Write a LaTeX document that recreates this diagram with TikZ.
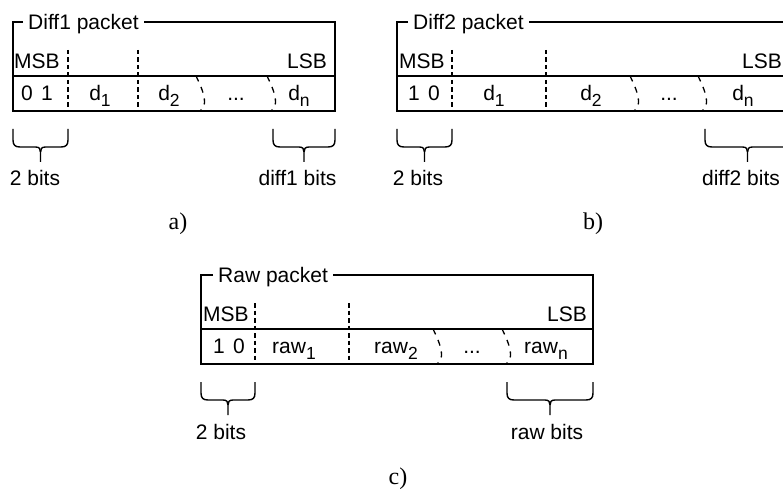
\documentclass[tikz,border=0pt]{standalone}
\usepackage{fontspec}
\setmainfont{Liberation Sans}
\newfontfamily\serifl{Liberation Serif}
\tikzset{
  frame/.style={line width=1.4bp, line join=miter},
  dsh/.style={line width=1.3bp, dash pattern=on 4.5bp off 3bp},
  brkline/.style={line width=1.3bp, dash pattern=on 6bp off 6bp},
  txt/.style={inner sep=0pt, font=\fontsize{21bp}{25bp}\selectfont},
  ttl/.style={txt, inner xsep=5bp, anchor=base west},
  lbl/.style={inner sep=0pt, font=\serifl\fontsize{24bp}{28bp}\selectfont},
}
\newcommand\subs[1]{\raisebox{-6bp}{\fontsize{17.5bp}{17.5bp}\selectfont #1}}
\newcommand\brkmark[2]{%
  \begin{scope}[shift={(#1,#2)}]
    \draw[brkline] (0,0) .. controls (10,20) and (11,30) .. (4,35);
  \end{scope}}
\newcommand\bitbrace[3]{%
  \pgfmathsetmacro\bm{(#1+#2)/2}%
  \begin{scope}[shift={(0,#3)}]
    \draw[frame] (#1,0) -- (#1,11) .. controls (#1,16) and ({#1+2},18) .. ({#1+7},18)
      -- ({\bm-5},18) .. controls ({\bm-1},18) and (\bm,20) .. (\bm,23) -- (\bm,33);
    \draw[frame] (#2,0) -- (#2,11) .. controls (#2,16) and ({#2-2},18) .. ({#2-7},18)
      -- ({\bm+5},18) .. controls ({\bm+1},18) and (\bm,20) .. (\bm,23);
  \end{scope}}
\begin{document}
\begin{tikzpicture}[x=1bp,y=-1bp]
\useasboundingbox (0,0) rectangle (783,491);

% ---------------- Panel a ----------------
\coordinate (atl) at (13,22);
\node[ttl] (ta) at (23,29.5) {Diff1 packet};
\draw[frame] (atl -| ta.west) -- (atl) -- (13,111) -- (335,111) -- (335,22) -- (ta.east |- atl);
\draw[frame] (13,76) -- (335,76);
\draw[dsh] (68,50) -- (68,111);
\draw[dsh] (138,50) -- (138,111);
\brkmark{196}{76}
\brkmark{267}{76}
\node[txt, anchor=base west] (amsb) at (14,68.5) {MSB};
\node[txt, anchor=base east] (alsb) at (327,68.5) {LSB};
\node[txt, anchor=base] (a01) at (37,100.5) {0\hspace{0.4em}1};
\node[txt, anchor=base] (ad1) at (100,100.5) {d\subs{1}};
\node[txt, anchor=base] (ad2) at (169,100.5) {d\subs{2}};
\node[txt, anchor=base] (adots) at (236,100.5) {...};
\node[txt, anchor=base] (adn) at (299,100.5) {d\subs{n}};
\bitbrace{13}{68}{129}
\bitbrace{273}{335}{129}
\node[txt, anchor=base] (a2b) at (35,186) {2 bits};
\node[txt, anchor=base] (adb) at (297.5,186) {diff1 bits};
\node[lbl] (la) at (178,224) {a)};

% ---------------- Panel b ----------------
\coordinate (btl) at (397,22);
\node[ttl] (tb) at (408,29.5) {Diff2 packet};
\draw[frame] (btl -| tb.west) -- (btl) -- (397,111) -- (790,111) -- (790,22) -- (tb.east |- btl);
\draw[frame] (397,76) -- (790,76);
\draw[dsh] (452,50) -- (452,111);
\draw[dsh] (546,50) -- (546,111);
\brkmark{630}{76}
\brkmark{698}{76}
\node[txt, anchor=base west] (bmsb) at (399,68.5) {MSB};
\node[txt, anchor=base east] (blsb) at (782,68.5) {LSB};
\node[txt, anchor=base] (b10) at (424,100.5) {1\hspace{0.4em}0};
\node[txt, anchor=base] (bd1) at (494,100.5) {d\subs{1}};
\node[txt, anchor=base] (bd2) at (591,100.5) {d\subs{2}};
\node[txt, anchor=base] (bdots) at (669,100.5) {...};
\node[txt, anchor=base] (bdn) at (743,100.5) {d\subs{n}};
\bitbrace{397}{452}{129}
\bitbrace{705}{790}{129}
\node[txt, anchor=base] (b2b) at (418,186) {2 bits};
\node[txt, anchor=base] (bdb) at (741,186) {diff2 bits};
\node[lbl] (lb) at (593,224) {b)};

% ---------------- Panel c ----------------
\coordinate (ctl) at (201,275);
\node[ttl] (tc) at (213,282.5) {Raw packet};
\draw[frame] (ctl -| tc.west) -- (ctl) -- (201,364) -- (593,364) -- (593,275) -- (tc.east |- ctl);
\draw[frame] (201,329) -- (593,329);
\draw[dsh] (255,303) -- (255,364);
\draw[dsh] (349,303) -- (349,364);
\brkmark{433}{329}
\brkmark{502}{329}
\node[txt, anchor=base west] (cmsb) at (203,321.5) {MSB};
\node[txt, anchor=base east] (clsb) at (587,321.5) {LSB};
\node[txt, anchor=base] (c10) at (229,353.5) {1\hspace{0.4em}0};
\node[txt, anchor=base] (cr1) at (294,353.5) {raw\subs{1}};
\node[txt, anchor=base] (cr2) at (396,353.5) {raw\subs{2}};
\node[txt, anchor=base] (cdots) at (472,353.5) {...};
\node[txt, anchor=base] (crn) at (546,353.5) {raw\subs{n}};
\bitbrace{201}{255}{382}
\bitbrace{507}{593}{382}
\node[txt, anchor=base] (c2b) at (221,439) {2 bits};
\node[txt, anchor=base] (crb) at (547,439) {raw bits};
\node[lbl] (lc) at (398,479) {c)};
\end{tikzpicture}
\end{document}
